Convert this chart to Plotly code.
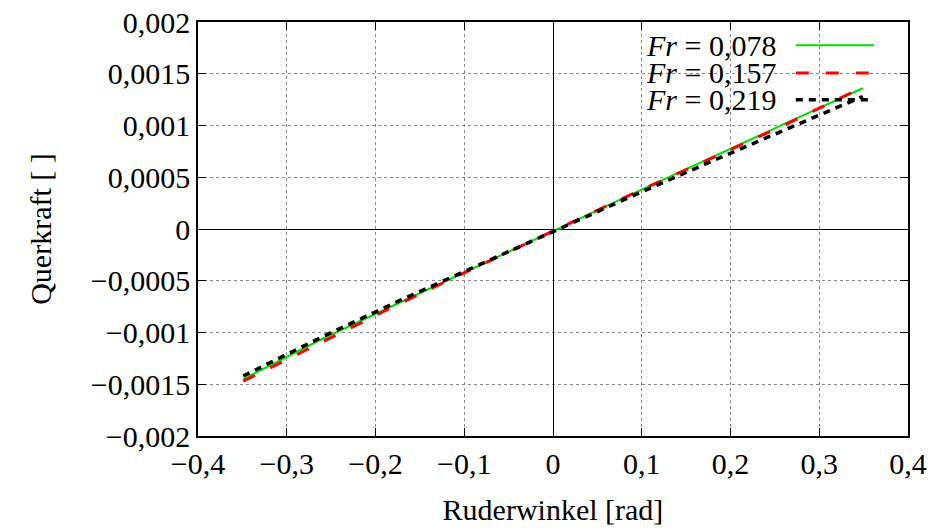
import plotly.graph_objects as go

# Data (rudder angle in rad, lateral force coefficient)
ruderwinkel = [-0.349, -0.262, -0.175, -0.087, 0.0, 0.087, 0.175, 0.262, 0.349]
fr_078 = [-0.00145, -0.00107, -0.00072, -0.00037, -0.00002, 0.00033, 0.00068, 0.00102, 0.00136]
fr_157 = [-0.00147, -0.00110, -0.00073, -0.00037, -0.00002, 0.00033, 0.00067, 0.00101, 0.00137]
fr_219 = [-0.00142, -0.00105, -0.00070, -0.00036, -0.00002, 0.00031, 0.00064, 0.00096, 0.00128]

series_names = ["<i>Fr</i> = 0,078", "<i>Fr</i> = 0,157", "<i>Fr</i> = 0,219"]
series_colors = ["#00dd00", "#ff0000", "#000000"]
series_dash = ["solid", "13px,17px", "7px,6px"]
series_width = [2, 3, 3.5]

x_tickvals = [-0.4, -0.3, -0.2, -0.1, 0, 0.1, 0.2, 0.3, 0.4]
x_ticktext = ["−0,4", "−0,3", "−0,2", "−0,1", "0", "0,1", "0,2", "0,3", "0,4"]
y_tickvals = [-0.002, -0.0015, -0.001, -0.0005, 0, 0.0005, 0.001, 0.0015, 0.002]
y_ticktext = ["−0,002", "−0,0015", "−0,001", "−0,0005", "0", "0,0005", "0,001", "0,0015", "0,002"]

FONT = "Liberation Serif"
FS = 30

fig = go.Figure()
for ys, name, col, dash, w in zip([fr_078, fr_157, fr_219], series_names, series_colors, series_dash, series_width):
    fig.add_trace(go.Scatter(x=ruderwinkel, y=ys, mode="lines", name=name,
                             line=dict(color=col, dash=dash, width=w), showlegend=False))

# Custom legend (text left, sample right, like gnuplot)
fig.add_shape(type="rect", xref="paper", yref="paper", x0=0.59, x1=0.963, y0=0.778, y1=0.985,
              fillcolor="white", line=dict(width=0), layer="between")
row_y = [0.944, 0.877, 0.812]
for name, col, dash, w, yy in zip(series_names, series_colors, series_dash, series_width, row_y):
    fig.add_annotation(xref="paper", yref="paper", x=0.817, y=yy, text=name, showarrow=False,
                       xanchor="right", yanchor="middle", font=dict(family=FONT, size=FS, color="black"))
    fig.add_shape(type="line", xref="paper", yref="paper", x0=0.842, x1=0.952, y0=yy, y1=yy,
                  line=dict(color=col, dash=dash, width=w), layer="above")

axis_common = dict(
    showline=True, linecolor="black", linewidth=1.5, mirror="allticks",
    ticks="inside", ticklen=8, tickcolor="black", tickwidth=1,
    showgrid=True, gridcolor="#888888", griddash="dot", gridwidth=1,
    zeroline=True, zerolinecolor="black", zerolinewidth=1,
    tickfont=dict(family=FONT, size=FS, color="black"),
    automargin=False,
)

fig.update_xaxes(range=[-0.4, 0.4], tickvals=x_tickvals, ticktext=x_ticktext,
                 title=dict(text="Ruderwinkel [rad]", font=dict(family=FONT, size=FS, color="black"), standoff=20),
                 **axis_common)
fig.update_yaxes(range=[-0.002, 0.002], tickvals=y_tickvals, ticktext=y_ticktext,
                 title=dict(text="Querkraft [ ]", font=dict(family=FONT, size=FS, color="black"), standoff=30),
                 **axis_common)

fig.update_layout(width=932, height=528, margin=dict(l=198, r=24, t=22, b=92),
                  plot_bgcolor="white", paper_bgcolor="white",
                  font=dict(family=FONT, size=FS, color="black"))

fig.write_html("out.html")
